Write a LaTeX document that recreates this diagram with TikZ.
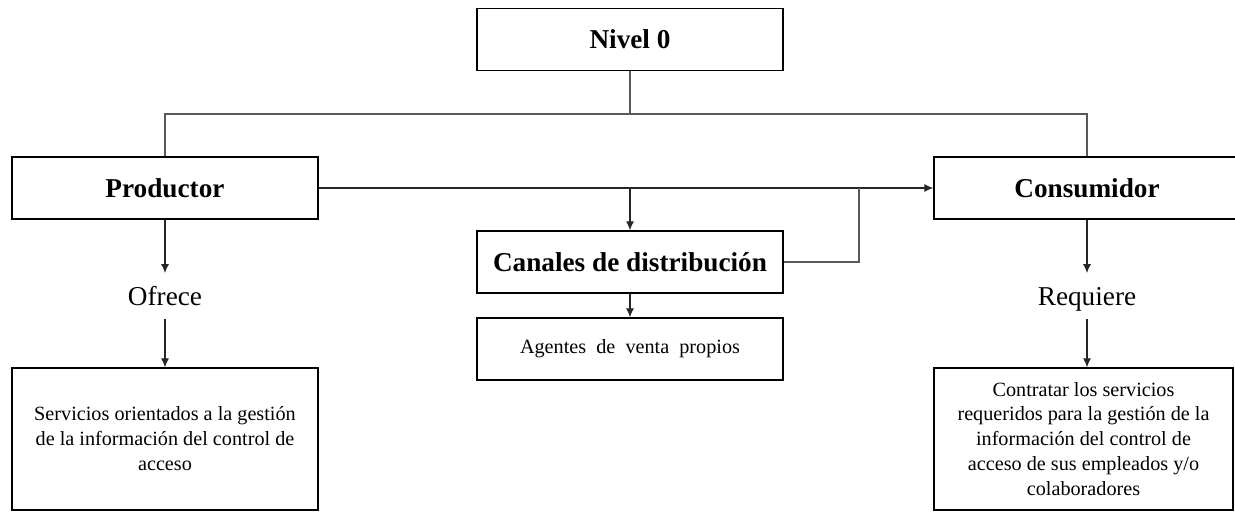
\documentclass[tikz,border=0pt]{standalone}
\usepackage{fontspec}
\setmainfont{Liberation Serif}
\usetikzlibrary{positioning,arrows.meta}

\begin{document}
\begin{tikzpicture}[line width=0.6pt,
    box/.style={rectangle, draw=black, line width=0.9pt, minimum width=6.12cm,
    minimum height=1.24cm, font=\fontsize{15.5}{18}\selectfont\bfseries},
    textbox/.style={rectangle, draw=black, line width=0.9pt, minimum width=6.12cm,
    align=center, font=\fontsize{11.5}{14.2}\selectfont},
    verb/.style={minimum height=0.9cm, text depth=0pt, font=\fontsize{15.5}{18}\selectfont},
    line/.style={draw=black!65},
    arrow/.style={draw=black!85, -{Latex[length=5pt,width=4.5pt]}}
    ]
\clip (0,0) rectangle (24.7,-10.28);
\node[box] (N0) at (12.6,-0.79) {Nivel 0};
\node[box] (P) at (3.3,-3.76) {Productor};
\node[box] (C) at (21.74,-3.76) {Consumidor};
\node[box] (CD) at (12.6,-5.24) {Canales de distribuci\'on};
\node[textbox, minimum height=1.24cm] (AV) at (12.6,-6.98) {Agentes \ de \ venta \ propios};
\node[verb] (OF) at (3.3,-5.92) {Ofrece};
\node[verb] (RQ) at (21.74,-5.92) {Requiere};
\node[textbox, minimum height=2.84cm] (SV) at (3.3,-8.78)
  {Servicios orientados a la gesti\'on\\de la informaci\'on del control de\\acceso};
\node[textbox, minimum width=5.98cm, minimum height=2.84cm] (CS) at (21.67,-8.78)
  {Contratar los servicios\\requeridos para la gesti\'on de la\\informaci\'on del control de\\acceso de sus empleados y/o\\colaboradores};
\coordinate (top) at (12.6,-2.28);
\coordinate (split) at (12.6,-3.76);
\coordinate (join) at (17.18,-3.76);
\draw[line] (N0) -- (top);
\draw[line] (P.north) |- (top) -| (C.north);
\draw[arrow] (P) -- (C);
\draw[arrow] (split) -- (CD);
\draw[line] (CD) -| (join);
\draw[arrow] (CD) -- (AV);
\draw[arrow] (P) -- (OF);
\draw[arrow] (OF) -- (SV);
\draw[arrow] (C.south -| RQ) -- (RQ);
\draw[arrow] (RQ) -- (RQ |- CS.north);
\end{tikzpicture}
\end{document}
